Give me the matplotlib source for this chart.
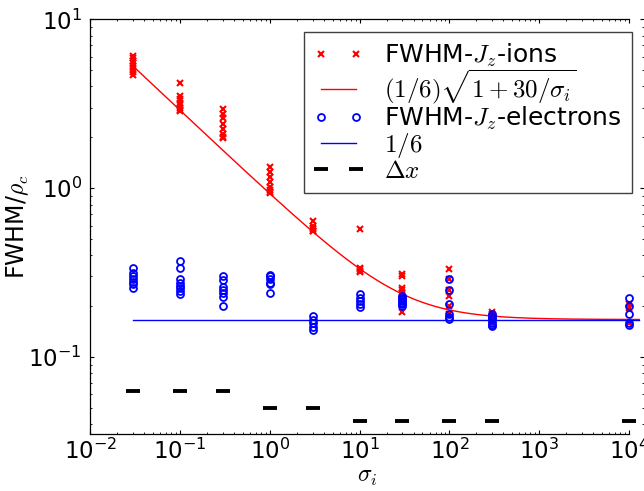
import matplotlib
matplotlib.use("Agg")
import matplotlib.pyplot as plt
import numpy as np

plt.rcParams['font.family'] = ['DejaVu Sans']
plt.rcParams['font.size'] = 16.5
plt.rcParams['mathtext.fontset'] = 'cm'
plt.rcParams['axes.unicode_minus'] = False
plt.rcParams['xtick.direction'] = 'in'
plt.rcParams['ytick.direction'] = 'in'
plt.rcParams['xtick.top'] = True
plt.rcParams['ytick.right'] = True
plt.rcParams['xtick.major.size'] = 3.2
plt.rcParams['ytick.major.size'] = 3.2
plt.rcParams['xtick.minor.size'] = 1.6
plt.rcParams['ytick.minor.size'] = 1.6
plt.rcParams['ytick.major.pad'] = 6
plt.rcParams['axes.linewidth'] = 0.9

# sigma_i values of the runs
sigma = [0.03, 0.1, 0.3, 1, 3, 10, 30, 100, 300, 1e4]

# FWHM of J_z, ions (several runs per sigma)
ions = [
    [6.1, 5.9, 5.7, 5.5, 5.3, 5.1, 4.9, 4.7],
    [4.18, 3.5, 3.35, 3.2, 3.1, 3.0, 2.9, 2.85],
    [2.95, 2.75, 2.6, 2.4, 2.25, 2.1, 2.02, 1.97],
    [1.34, 1.25, 1.17, 1.09, 1.02, 0.98, 0.95, 0.93],
    [0.64, 0.6, 0.58, 0.57, 0.56, 0.555],
    [0.57, 0.335, 0.33, 0.325, 0.32],
    [0.31, 0.30, 0.255, 0.25, 0.24, 0.22, 0.21, 0.185],
    [0.33, 0.29, 0.25, 0.23, 0.20, 0.18],
    [0.185, 0.18, 0.175, 0.17, 0.165, 0.16, 0.155],
    [0.205, 0.195, 0.16, 0.158],
]

# FWHM of J_z, electrons
electrons = [
    [0.335, 0.315, 0.30, 0.29, 0.28, 0.27, 0.255],
    [0.37, 0.335, 0.29, 0.275, 0.265, 0.255, 0.245, 0.235],
    [0.30, 0.285, 0.26, 0.25, 0.24, 0.226, 0.20],
    [0.307, 0.30, 0.29, 0.275, 0.27, 0.24],
    [0.175, 0.165, 0.158, 0.15, 0.145],
    [0.235, 0.225, 0.215, 0.205, 0.198],
    [0.23, 0.225, 0.22, 0.215, 0.21, 0.205, 0.20],
    [0.29, 0.25, 0.205, 0.18, 0.172, 0.167],
    [0.18, 0.175, 0.17, 0.165, 0.16, 0.155, 0.152],
    [0.225, 0.20, 0.18, 0.16, 0.155],
]

# grid spacing
dx = [1/16, 1/16, 1/16, 1/20, 1/20, 1/24, 1/24, 1/24, 1/24, 1/24]

# model: (1/6) sqrt(1 + 30/sigma)
coef = 1/6
sig0 = 30
sig_min, sig_max = 0.03, 1.3e4

xi = [s for s, v in zip(sigma, ions) for _ in v]
yi = [y for v in ions for y in v]
xe = [s for s, v in zip(sigma, electrons) for _ in v]
ye = [y for v in electrons for y in v]

s_curve = np.logspace(np.log10(sig_min), np.log10(sig_max), 400)

fig = plt.figure(figsize=(6.44, 4.91), dpi=100)
ax = fig.add_axes([90.3/644, 1 - 434/491, (644 - 90.3)/644, (434 - 19.3)/491])

ax.plot(xi, yi, 'x', color='red', ms=5, mew=1.5, label=r'FWHM-$J_z$-ions')
ax.plot(s_curve, coef*np.sqrt(1 + sig0/s_curve), '-', color='red', lw=1,
        label=r'$(1/6)\sqrt{1+30/\sigma_i}$')
ax.plot(xe, ye, 'o', mfc='none', mec='blue', ms=5, mew=1.3,
        label=r'FWHM-$J_z$-electrons')
ax.plot([sig_min, sig_max], [coef, coef], '-', color='blue', lw=1, label=r'$1/6$')
ax.plot(sigma, dx, '_', color='black', ms=10, mew=2.8, label=r'$\Delta x$')

ax.set_xscale('log')
ax.set_yscale('log')
ax.set_xlim(1e-2, 1.47e4)
ax.set_ylim(0.035, 10)
ax.spines['top'].set_bounds(1e-2, 1e4)
ax.spines['bottom'].set_bounds(1e-2, 1e4)
ax.spines['right'].set_color('none')

ax.set_xlabel(r'$\sigma_i$', fontsize=17, labelpad=0)
ax.set_ylabel(r'FWHM/$\rho_c$', fontsize=17)
ax.yaxis.set_label_coords(-0.108, 0.5)

leg = ax.legend(loc='upper right', numpoints=2, fontsize=18, handlelength=2,
                handletextpad=0.8, borderpad=0.4, labelspacing=-0.05,
                borderaxespad=0.5, fancybox=False, framealpha=1)
leg.get_frame().set_edgecolor('0.25')
leg.get_frame().set_linewidth(1.0)

fig.savefig("out.png", dpi=100)
